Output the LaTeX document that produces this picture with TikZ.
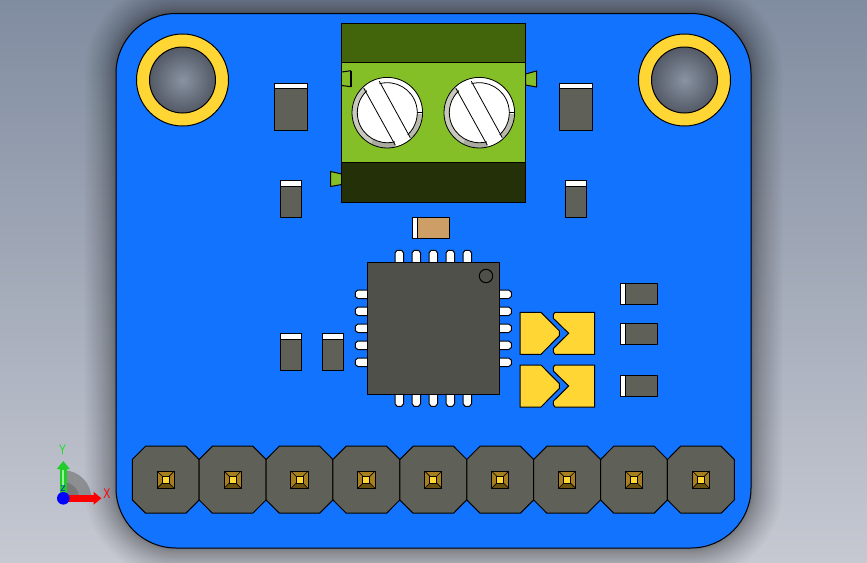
\documentclass[tikz,border=0pt]{standalone}
\usepackage{fontspec}
\setmainfont{Liberation Sans}
\usetikzlibrary{arrows.meta}
\definecolor{board}{RGB}{18,115,255}
\definecolor{gold}{RGB}{255,214,51}
\definecolor{chipgrey}{RGB}{80,80,75}
\definecolor{partgrey}{RGB}{95,96,88}
\definecolor{termlight}{RGB}{133,191,40}
\definecolor{termdark}{RGB}{66,100,10}
\definecolor{termblack}{RGB}{36,49,8}
\definecolor{captan}{RGB}{205,159,102}
\definecolor{pinside}{RGB}{168,127,30}
\definecolor{pinlow}{RGB}{107,81,16}
\tikzset{
	outline/.style={draw=black, line width=1pt}, % every part has the same black edge
	thinline/.style={draw=black, line width=.8pt},
	greybox/.style={outline, fill=partgrey},
	whitebox/.style={outline, fill=white},
	pad/.style={outline, fill=gold},
	ringarc/.style={line width=5.2pt},
	axis/.style={line width=6.5pt, -{Triangle[width=12.5pt,length=8pt]}},
	axislabel/.style={font=\fontsize{14}{14}\selectfont, inner sep=0pt},
}
\begin{document}
\begin{tikzpicture}[x=1pt, y=-1pt]
	\useasboundingbox (0,0) rectangle (867,562);
	\clip (0,0) rectangle (867,562);
	\shade[top color={rgb,255:red,128;green,140;blue,160}, bottom color={rgb,255:red,198;green,201;blue,210}] (0,0) rectangle (867,562);
	% soft shadow under the board, layers packed tighter near the edge
	\foreach \i in {1,...,25} {
		\pgfmathsetmacro{\r}{\i*\i/20}
		\fill[black, opacity=.018, rounded corners=60+\r] (116-\r,13-\r) rectangle (751+\r,548+\r);
	}
	\draw[outline, fill=board, rounded corners=60] (116,13.5) rectangle (751,548);
	% mounting holes
	\foreach \hx in {182.5,684.5} {
		\draw[pad] (\hx,80) circle (46);
		\shade[inner color={rgb,255:red,136;green,147;blue,163}, outer color={rgb,255:red,84;green,90;blue,102}] (\hx,80) circle (33);
		\draw[outline] (\hx,80) circle (33);
	}
	% resistors
	\foreach \bx/\by/\bw/\bh/\bt in {274/83/33/47/5.5, 559/83/33/47/5.5, 280.5/180.5/21/37/6, 565/180.5/21/37/6, 280.5/333.5/21/37/6, 322.5/333.5/21/37/6} {
		\draw[greybox] (\bx,\by) rectangle ++(\bw,\bh);
		\draw[whitebox] (\bx,\by) rectangle ++(\bw,\bt);
	}
	% terminal block
	\draw[outline, fill=termlight] (525.5,74) -- (536.5,71) -- (536.5,87) -- (525.5,85) -- cycle;
	\draw[outline, fill=termlight] (341.7,174) -- (330.5,171.5) -- (330.5,186.5) -- (341.7,184.5) -- cycle;
	\draw[outline, fill=termdark] (341.5,23.5) rectangle (525.5,62);
	\draw[outline, fill=termlight] (341.5,62) rectangle (525.5,162);
	\draw[outline, fill=termblack] (341.5,162) rectangle (525.5,202);
	\draw[outline] (341.7,72) -- (351,70.7) (351,86.7) -- (341.7,85.5);
	\draw[line width=2.2pt] (350.7,70.7) -- (350.7,86.7);
	\foreach \sx in {387.3,479.3} {
		\begin{scope}[shift={(\sx,112.7)}]
			\fill[white] (0,0) circle (35);
			\draw[ringarc, draw={rgb,255:red,200;green,200;blue,190}] (227:32.5) arc (227:118:32.5);
			\draw[ringarc, draw={rgb,255:red,170;green,170;blue,160}] (118:32.5) arc (118:76:32.5);
			\draw[ringarc, draw={rgb,255:red,185;green,185;blue,175}] (47:32.5) arc (47:2:32.5);
			\draw[thinline] (0,0) circle (35.3);
			\draw[thinline] (255:30) arc (255:407:30);
			\draw[thinline] (76:30) arc (76:227:30);
			\draw[thinline] (-23.5,-24.5) -- (8,32.5);
			\draw[thinline] (-8,-31.5) -- (23,25);
			\draw[thinline] (30,0) -- (35,0);
		\end{scope}
	}
	% small capacitor
	\draw[outline, fill=captan] (412.5,217.5) rectangle (449.5,238.5);
	\draw[whitebox] (412.5,217.5) rectangle (417.8,238.5);
	% chip and its pins
	\foreach \rot in {0,90,180,270} {
		\foreach \pin in {-34,-17,0,17,34} {
			\begin{scope}[shift={(433.3,328.3)}, rotate=\rot]
				\draw[whitebox] (\pin-4.2,-66) -- (\pin-4.2,-75.5) -- (\pin-2.2,-78) -- (\pin+2.2,-78) -- (\pin+4.2,-75.5) -- (\pin+4.2,-66);
			\end{scope}
		}
	}
	\draw[outline, fill=chipgrey] (367.3,262.3) rectangle (499.3,394.3);
	\draw[outline] (486,276) circle (6.7);
	% gold pads
	\foreach \dy in {0,52.7} {
		\draw[pad] (520,312.3+\dy) -- (541,312.3+\dy) -- (559.3,330.8+\dy) -- (559.3,335.8+\dy) -- (541,354.3+\dy) -- (520,354.3+\dy) -- cycle;
		\draw[pad] (594.7,312.3+\dy) -- (555,312.3+\dy) -- (553.3,314.5+\dy) -- (553.3,318.3+\dy) -- (568.7,333.3+\dy) -- (553.3,348.5+\dy) -- (553.3,352+\dy) -- (555,354.3+\dy) -- (594.7,354.3+\dy) -- cycle;
	}
	% diodes
	\foreach \dy in {283.3,323.3,375.3} {
		\draw[greybox] (620.3,\dy) rectangle (657.7,\dy+21);
		\draw[whitebox] (620.3,\dy) rectangle (625.6,\dy+21);
	}
	% header
	\foreach \n in {0,...,8} {
		\begin{scope}[shift={(165.7+66.9*\n,479.7)}]
			\draw[greybox] (-20.2,-33.5) -- (20.2,-33.5) -- (33.45,-20.2) -- (33.45,20.2) -- (20.2,33.5) -- (-20.2,33.5) -- (-33.45,20.2) -- (-33.45,-20.2) -- cycle;
			\fill[pinside] (-8.6,-8.6) rectangle (8.6,8.6);
			\fill[pinlow] (-8.6,8.6) -- (-3.5,3.5) -- (3.5,3.5) -- (8.6,8.6) -- cycle;
			\draw[line width=.6pt] (-8.6,-8.6) -- (8.6,8.6) (-8.6,8.6) -- (8.6,-8.6);
			\draw[outline] (-8.6,-8.6) rectangle (8.6,8.6);
			\draw[outline, fill=gold] (-3.5,-3.5) rectangle (3.5,3.5);
		\end{scope}
	}
	% triad
	\coordinate (origin) at (63.3,498.3);
	\coordinate (xtip) at (101.5,498.3);
	\coordinate (ytip) at (63.3,461);
	\fill[black!45!gray!70!white, opacity=.75] (origin) -- (91.3,498.3) arc (0:-90:28) -- cycle;
	\fill[black!55, opacity=.8] (origin) -- (79.3,498.3) arc (0:-90:16) -- cycle;
	\draw[axis, draw=red] (origin) -- (xtip);
	\draw[axis, draw={rgb,255:red,30;green,205;blue,40}] (origin) -- (ytip);
	\draw[line width=2.2pt, draw={rgb,255:red,150;green,245;blue,150}] (62.6,470) -- (62.6,486);
	\node[axislabel, text=blue, font=\fontsize{8}{8}\selectfont] (zlabel) at (63,489) {Z};
	\fill[blue] (origin) circle (6.3);
	\node[axislabel, text=red] (xlabel) at (107,493.3) {\scalebox{.75}[1]{X}};
	\node[axislabel, text={rgb,255:red,30;green,220;blue,40}] (ylabel) at (62.7,450) {\scalebox{.75}[1]{Y}};
\end{tikzpicture}
\end{document}
